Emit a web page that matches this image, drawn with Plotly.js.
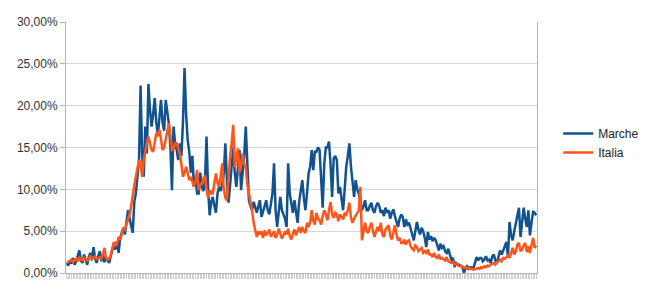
<!DOCTYPE html>
<html>
<head>
<meta charset="utf-8">
<script src="https://cdn.plot.ly/plotly-3.0.1.min.js"></script>
<style>html,body{margin:0;padding:0;background:#fff;}#chart{width:650px;height:299px;}</style>
</head>
<body>
<div id="chart"></div>
<script>
// Daily positivity rate (%), one value per day
const seriesNames = ["Marche", "Italia"];

const marche = [
  1.2, 0.9, 1.5, 1.1, 1.8, 1.0, 1.4, 2.0, 2.7, 1.5,
  1.2, 2.2, 1.6, 1.0, 1.9, 2.4, 1.5, 3.1, 1.8, 1.2,
  2.0, 2.6, 1.4, 2.2, 1.3, 1.9, 1.5, 1.2, 2.0, 2.9,
  3.5, 2.8, 3.8, 2.4, 4.2, 4.8, 5.4, 4.6, 6.2, 7.5,
  6.5, 5.8, 4.8, 8.5, 9.5, 11.5, 13.5, 22.4, 14.0, 11.5,
  17.5, 14.3, 22.6, 19.5, 17.5, 19.0, 20.9, 18.0, 16.5, 18.5,
  20.7, 18.0, 17.0, 20.7, 19.0, 17.9, 15.0, 9.9, 17.5, 15.5,
  14.7, 13.5, 15.5, 14.0, 18.0, 24.5, 19.0, 15.9, 14.5, 12.0,
  14.0, 10.3, 11.5, 9.5, 9.5, 12.0, 10.3, 9.8, 11.0, 16.3,
  10.0, 6.9, 8.5, 9.1, 8.0, 7.2, 9.5, 10.3, 9.8, 10.5,
  12.0, 15.5, 11.0, 8.4, 10.5, 12.7, 15.0, 12.0, 10.3, 12.5,
  14.7, 9.9, 12.0, 14.0, 17.5, 11.9, 8.7, 8.0, 7.5, 8.5,
  7.8, 7.2, 8.0, 8.7, 6.7, 7.5, 8.0, 8.7, 7.5, 7.0,
  8.5, 9.5, 13.1, 7.5, 5.5, 7.5, 9.1, 7.5, 7.0, 6.5,
  5.5, 13.1, 9.5, 8.0, 7.2, 8.7, 7.5, 6.0, 8.5, 10.0,
  11.1, 9.0, 7.5, 9.5, 11.9, 12.7, 14.7, 12.3, 14.5, 14.5,
  15.0, 14.7, 11.1, 7.8, 13.1, 15.0, 15.0, 15.7, 13.0, 9.1,
  13.7, 14.0, 13.5, 9.5, 10.3, 9.0, 7.5, 10.0, 12.7, 14.0,
  15.5, 12.7, 11.0, 9.1, 11.1, 10.0, 9.5, 8.4, 7.5, 8.0,
  8.7, 7.5, 7.5, 8.0, 8.4, 7.5, 7.2, 8.0, 8.4, 8.0,
  7.2, 7.5, 6.8, 7.8, 7.2, 7.5, 6.5, 7.2, 7.6, 6.8,
  6.2, 5.5, 6.5, 7.0, 6.7, 5.5, 6.4, 5.8, 6.0, 5.2,
  4.5, 3.9, 5.0, 6.1, 5.2, 4.6, 5.4, 5.0, 4.2, 3.1,
  4.9, 4.0, 4.4, 3.8, 4.2, 3.9, 3.3, 2.7, 3.5, 3.0,
  3.2, 2.6, 2.4, 2.9, 2.2, 1.6, 1.8, 0.7, 1.2, 1.0,
  1.0, 0.8, 0.7, 0.0, 0.6, 0.8, 0.5, 0.7, 0.6, 0.6,
  1.2, 1.9, 1.5, 1.8, 1.8, 1.4, 1.6, 2.0, 1.5, 1.6,
  1.2, 2.0, 2.2, 1.5, 1.2, 2.0, 2.7, 2.2, 2.7, 3.0,
  3.7, 2.0, 6.1, 4.5, 3.9, 5.0, 6.0, 7.0, 7.8, 4.3,
  6.0, 7.8, 6.5, 5.5, 7.5, 4.5, 6.0, 7.3, 7.2, 6.9
];

const italia = [
  1.2, 1.3, 1.4, 1.6, 1.3, 1.5, 1.7, 1.4, 1.9, 1.6,
  1.5, 1.8, 1.6, 1.5, 1.7, 2.0, 1.7, 1.8, 2.0, 1.7,
  1.8, 1.9, 1.7, 2.2, 3.0, 1.8, 1.6, 1.7, 2.2, 2.8,
  3.7, 3.2, 3.5, 4.3, 4.0, 4.6, 5.4, 5.2, 5.8, 6.1,
  7.0, 8.0, 9.5, 10.5, 11.5, 12.5, 13.5, 13.0, 11.5, 13.5,
  14.7, 15.5, 16.3, 15.5, 14.7, 14.5, 15.5, 16.7, 16.5, 17.1,
  16.0, 14.7, 15.0, 15.9, 16.8, 17.9, 16.5, 14.7, 14.8, 15.5,
  15.5, 14.8, 14.3, 13.0, 11.5, 12.0, 12.7, 12.0, 11.1, 11.5,
  10.8, 10.3, 11.0, 12.3, 9.9, 10.5, 10.7, 11.2, 11.7, 10.0,
  9.0, 9.9, 9.5, 9.5, 10.5, 11.9, 10.8, 10.3, 11.5, 13.1,
  10.0, 9.0, 8.7, 11.5, 13.9, 15.5, 17.7, 12.7, 14.0, 14.9,
  12.0, 13.0, 14.3, 13.0, 12.7, 10.5, 9.5, 8.5, 7.5, 6.0,
  5.1, 4.3, 5.0, 4.6, 5.0, 4.2, 5.1, 4.5, 4.8, 5.2,
  4.3, 4.7, 5.0, 4.2, 4.6, 5.3, 4.8, 4.1, 4.5, 5.0,
  4.6, 5.3, 4.4, 4.0, 4.7, 5.2, 4.5, 5.1, 5.5, 4.8,
  5.5, 5.0, 4.8, 6.0, 5.5, 6.0, 7.5, 6.2, 5.8, 7.2,
  6.5, 6.3, 5.8, 6.8, 7.5, 7.0, 6.3, 7.5, 8.5, 7.0,
  6.6, 7.2, 7.0, 6.2, 7.0, 6.7, 6.4, 7.2, 7.0, 7.5,
  8.4, 6.6, 6.0, 6.5, 6.8, 7.2, 7.5, 10.3, 3.9, 5.0,
  6.0, 5.0, 4.8, 5.5, 6.0, 5.0, 4.3, 5.0, 5.5, 5.0,
  6.0, 4.6, 4.3, 5.2, 5.4, 5.7, 4.5, 4.0, 4.8, 5.7,
  4.6, 3.9, 4.2, 3.6, 3.6, 4.0, 3.4, 3.8, 3.9, 3.2,
  2.9, 2.7, 3.3, 3.1, 2.6, 2.8, 3.0, 2.4, 2.6, 2.4,
  2.8, 2.2, 2.2, 1.9, 2.4, 1.9, 1.8, 2.2, 1.7, 1.8,
  1.6, 1.5, 1.9, 1.4, 1.3, 1.2, 1.3, 1.0, 1.1, 0.9,
  0.8, 0.9, 0.7, 0.6, 0.7, 0.5, 0.6, 0.5, 0.4, 0.4,
  0.5, 0.5, 0.6, 0.5, 0.7, 0.6, 0.8, 0.7, 0.9, 0.8,
  1.0, 1.1, 1.2, 1.0, 1.3, 1.4, 1.6, 1.4, 1.8, 1.7,
  1.9, 2.1, 1.8, 2.4, 3.0, 2.2, 2.6, 3.4, 3.6, 2.6,
  2.8, 3.3, 3.6, 2.5, 3.2, 2.4, 3.5, 4.2, 3.0, 3.3
];

const yTickVals = [0, 5, 10, 15, 20, 25, 30];
const yTickText = ["0,00%", "5,00%", "10,00%", "15,00%", "20,00%", "25,00%", "30,00%"];

const traces = [
  {
    y: marche, name: seriesNames[0], type: "scatter", mode: "lines",
    line: {color: "#12538f", width: 2.5}
  },
  {
    y: italia, name: seriesNames[1], type: "scatter", mode: "lines",
    line: {color: "#ff5519", width: 2.5}
  }
];

const layout = {
  width: 650, height: 299,
  margin: {l: 66, r: 113, t: 22, b: 26, pad: 0, autoexpand: false},
  paper_bgcolor: "#ffffff", plot_bgcolor: "#ffffff",
  font: {family: "Liberation Sans, Arial, sans-serif", size: 12, color: "#333333"},
  showlegend: true,
  legend: {
    x: 1.045, y: 0.518, xanchor: "left", yanchor: "middle",
    font: {size: 12, color: "#222222"},
    bgcolor: "rgba(0,0,0,0)", borderwidth: 0,
    tracegroupgap: 0, itemwidth: 30
  },
  xaxis: {
    type: "linear",
    range: [-0.5, marche.length - 0.5],
    tickmode: "linear", tick0: 0, dtick: 1,
    ticks: "outside", ticklen: 5, tickwidth: 1, tickcolor: "#cfcfcf",
    showticklabels: false, showgrid: false, zeroline: false,
    showline: true, linecolor: "#b3b3b3", linewidth: 1
  },
  yaxis: {
    range: [0, 30],
    tickmode: "array", tickvals: yTickVals, ticktext: yTickText,
    ticks: "outside", ticklen: 5, tickcolor: "#b3b3b3",
    showgrid: true, gridcolor: "#d6d6d6", gridwidth: 1,
    zeroline: false,
    showline: true, mirror: true, linecolor: "#b3b3b3", linewidth: 1,
    tickfont: {size: 12, color: "#333333"}
  }
};

Plotly.newPlot("chart", traces, layout, {displayModeBar: false, staticPlot: true});
</script>
</body>
</html>
